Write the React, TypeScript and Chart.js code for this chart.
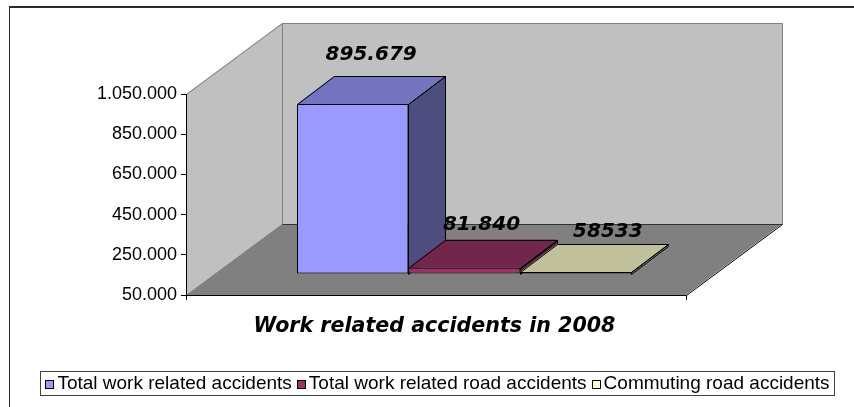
import React, { useEffect, useRef } from "react";
import { Chart, registerables } from "chart.js";

Chart.register(...registerables);

// ---------- data ----------
const categories = ["2008"];
const seriesNames = [
  "Total work related accidents",
  "Total work related road accidents",
  "Commuting road accidents",
];
const seriesValues = [895679, 81840, 58533];
const valueLabels = ["895.679", "81.840", "58533"];
const yTickValues = [50000, 250000, 450000, 650000, 850000, 1050000];
const yTickLabels = ["50.000", "250.000", "450.000", "650.000", "850.000", "1.050.000"];
const chartTitle = "Work related accidents in 2008";

// ---------- styles ----------
const frontColors = ["#9999FF", "#993366", "#FFFFCC"];
const topColors = ["#7373BF", "#73264D", "#C0C09A"];
const sideColors = ["#4D4D80", "#4D1A33", "#808066"];

const DEPTH = { x: 96, y: -71 };
const FRONT = { x: 28, y: -21 };
const BAR_DEPTH = { x: 37, y: -28 };
const LABEL_NUDGE = [
  { dx: 0, dy: -16 },
  { dx: -1, dy: -10 },
  { dx: 14, dy: -7 },
];

const BOLD_ITALIC = 'italic bold 20px "DejaVu Sans", Verdana, sans-serif';
const TITLE_FONT = 'italic bold 20.6px "DejaVu Sans", Verdana, sans-serif';
const PLAIN = '19px "Liberation Sans", Arial, sans-serif';

type Pt = [number, number];

function poly(ctx: CanvasRenderingContext2D, pts: Pt[], fill: string | null, stroke: string | null) {
  if (fill) {
    ctx.beginPath();
    pts.forEach(([x, y], i) => (i ? ctx.lineTo(x, y) : ctx.moveTo(x, y)));
    ctx.closePath();
    ctx.fillStyle = fill;
    ctx.fill();
  }
  if (stroke) {
    ctx.beginPath();
    pts.forEach(([x, y], i) =>
      i ? ctx.lineTo(Math.round(x) + 0.5, Math.round(y) + 0.5) : ctx.moveTo(Math.round(x) + 0.5, Math.round(y) + 0.5)
    );
    ctx.closePath();
    ctx.strokeStyle = stroke;
    ctx.lineWidth = 1;
    ctx.stroke();
  }
}

function seg(ctx: CanvasRenderingContext2D, a: Pt, b: Pt, color: string) {
  ctx.beginPath();
  ctx.moveTo(Math.round(a[0]) + 0.5, Math.round(a[1]) + 0.5);
  ctx.lineTo(Math.round(b[0]) + 0.5, Math.round(b[1]) + 0.5);
  ctx.strokeStyle = color;
  ctx.lineWidth = 1;
  ctx.stroke();
}

function barGeom(chart: any, i: number) {
  const el = chart.getDatasetMeta(i).data[0];
  const p = el.getProps(["x", "y", "base", "width"], true);
  const floor = chart.chartArea.bottom;
  const L = p.x - p.width / 2 + FRONT.x;
  const R = p.x + p.width / 2 + FRONT.x;
  const T = Math.min(p.y, p.base) + FRONT.y;
  const B = Math.min(Math.max(p.y, p.base), floor) + FRONT.y;
  return { L, R, T, B };
}

const threeD = {
  id: "threeD",
  beforeDraw(chart: any) {
    const { ctx, chartArea: a } = chart;
    ctx.save();
    ctx.fillStyle = "#ffffff";
    ctx.fillRect(0, 0, chart.width, chart.height);
    // outer frame
    ctx.fillStyle = "#2b2b2b";
    ctx.fillRect(9, 6, chart.width - 9, 2);
    ctx.fillRect(9, 6, 1, chart.height - 6);

    const L = a.left, R = a.right, T = a.top, B = a.bottom;
    const dx = DEPTH.x, dy = DEPTH.y;
    // side wall
    poly(ctx, [[L, B], [L, T], [L + dx, T + dy], [L + dx, B + dy]], "#C0C0C0", "#808080");
    // back wall
    poly(ctx, [[L + dx, T + dy], [R + dx, T + dy], [R + dx, B + dy], [L + dx, B + dy]], "#C0C0C0", "#808080");
    // floor
    poly(ctx, [[L, B], [R, B], [R + dx, B + dy], [L + dx, B + dy]], "#808080", null);
    seg(ctx, [R, B], [R + dx, B + dy], "#000000");
    seg(ctx, [L + dx, B + dy], [R + dx, B + dy], "#333333");
    ctx.restore();
  },
  beforeDatasetsDraw(chart: any) {
    const { ctx } = chart;
    ctx.save();
    const bx = BAR_DEPTH.x, by = BAR_DEPTH.y;
    for (let i = 0; i < chart.data.datasets.length; i++) {
      const { L, R, T, B } = barGeom(chart, i);
      poly(ctx, [[R, T], [R + bx, T + by], [R + bx, B + by], [R, B]], sideColors[i], "#000000");
      poly(ctx, [[L, T], [L + bx, T + by], [R + bx, T + by], [R, T]], topColors[i], "#000000");
    }
    ctx.translate(FRONT.x, FRONT.y);
  },
  afterDatasetsDraw(chart: any) {
    const { ctx } = chart;
    ctx.restore();
    ctx.save();
    ctx.font = BOLD_ITALIC;
    ctx.fillStyle = "#000000";
    ctx.textAlign = "center";
    ctx.textBaseline = "alphabetic";
    for (let i = 0; i < chart.data.datasets.length; i++) {
      const { L, R, T } = barGeom(chart, i);
      const cx = (L + R) / 2 + BAR_DEPTH.x / 2 + LABEL_NUDGE[i].dx;
      const cy = T + BAR_DEPTH.y + LABEL_NUDGE[i].dy;
      ctx.fillText(valueLabels[i], cx, cy);
    }
    ctx.restore();
  },
  afterDraw(chart: any) {
    const { ctx, chartArea: a } = chart;
    ctx.save();
    // title
    ctx.font = TITLE_FONT;
    ctx.fillStyle = "#000000";
    ctx.textAlign = "center";
    ctx.textBaseline = "alphabetic";
    ctx.fillText(chartTitle, (a.left + a.right) / 2 - 1.5, 332);

    // legend
    const box = { l: 40, t: 371, r: 834, b: 395 };
    ctx.fillStyle = "#ffffff";
    ctx.fillRect(box.l, box.t, box.r - box.l, box.b - box.t);
    ctx.strokeStyle = "#404040";
    ctx.lineWidth = 1;
    ctx.strokeRect(box.l + 0.5, box.t + 0.5, box.r - box.l, box.b - box.t);
    ctx.font = PLAIN;
    ctx.textAlign = "left";
    ctx.textBaseline = "middle";
    const sw = 8, gap = 3, spacing = 6;
    const widths = seriesNames.map((n) => ctx.measureText(n).width);
    const total = widths.reduce((s, w) => s + sw + gap + w, 0) + spacing * (seriesNames.length - 1);
    let x = (box.l + box.r) / 2 - total / 2;
    const cy = (box.t + box.b) / 2 + 1;
    seriesNames.forEach((n, i) => {
      ctx.fillStyle = frontColors[i];
      ctx.fillRect(Math.round(x), Math.round(cy - sw / 2), sw, sw);
      ctx.strokeStyle = "#000000";
      ctx.strokeRect(Math.round(x) + 0.5, Math.round(cy - sw / 2) + 0.5, sw, sw);
      ctx.fillStyle = "#000000";
      ctx.fillText(n, x + sw + gap + 1, cy);
      x += sw + gap + widths[i] + spacing;
    });
    ctx.restore();
  },
};

export default function App() {
  const ref = useRef<HTMLCanvasElement | null>(null);
  useEffect(() => {
    document.body.style.margin = "0";
    const canvas = ref.current;
    if (!canvas) return;
    const chart = new Chart(canvas, {
      type: "bar",
      data: {
        labels: categories,
        datasets: seriesNames.map((name, i) => ({
          label: name,
          data: [seriesValues[i]],
          base: yTickValues[0],
          backgroundColor: frontColors[i],
          borderColor: "#000000",
          borderWidth: 1,
          borderSkipped: false,
          categoryPercentage: 0.668,
          barPercentage: 1,
        })),
      },
      options: {
        responsive: false,
        animation: false,
        devicePixelRatio: 1,
        layout: { padding: { left: 6, top: 94, right: 168, bottom: 107 } },
        plugins: {
          legend: { display: false },
          title: { display: false },
          tooltip: { enabled: false },
        },
        scales: {
          x: {
            display: true,
            offset: true,
            grid: { display: true, drawOnChartArea: false, drawTicks: true, tickLength: 5, color: "#000000", offset: true },
            border: { display: true, color: "#000000" },
            ticks: { display: false },
            afterFit: (s: any) => {
              s.height = 5;
            },
          },
          y: {
            min: yTickValues[0],
            max: yTickValues[yTickValues.length - 1],
            grid: { display: true, drawOnChartArea: false, drawTicks: true, tickLength: 5, color: "#000000" },
            border: { display: true, color: "#000000" },
            ticks: {
              color: "#000000",
              padding: 4,
              font: { family: '"Liberation Sans", Arial, sans-serif', size: 18 },
              callback: (_v: any, i: number) => yTickLabels[i],
            },
            afterBuildTicks: (s: any) => {
              s.ticks = yTickValues.map((v) => ({ value: v }));
            },
            afterFit: (s: any) => {
              s.width = 180;
            },
          },
        },
      },
      plugins: [threeD],
    });
    return () => chart.destroy();
  }, []);
  return (
    <div style={{ width: 854, height: 407 }}>
      <canvas ref={ref} width={854} height={407} style={{ display: "block" }} />
    </div>
  );
}
